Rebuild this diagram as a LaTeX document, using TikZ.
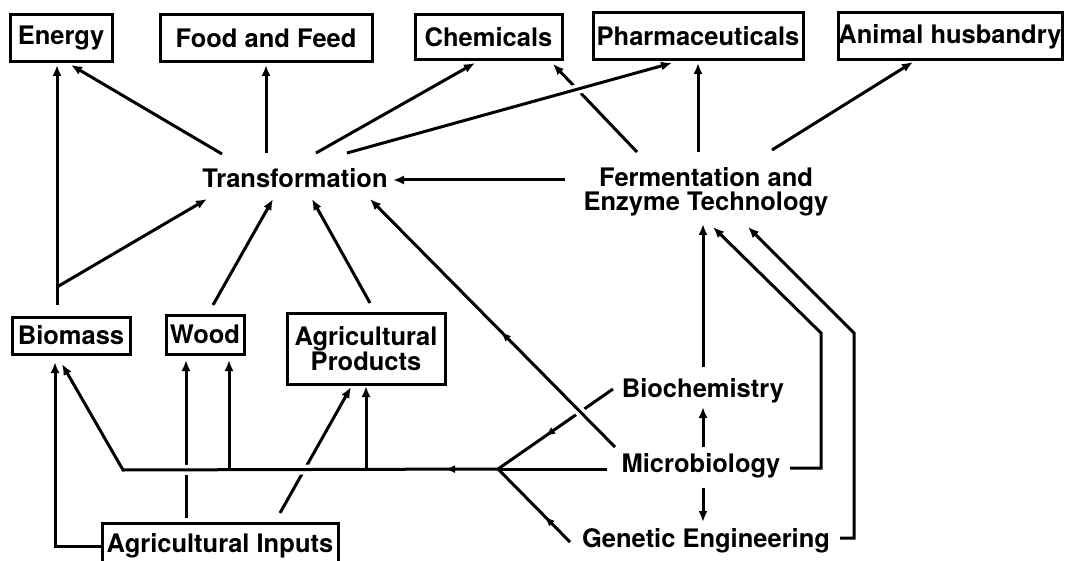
\documentclass[tikz,border=0pt]{standalone}
\usepackage{fontspec}
\setmainfont{TeX Gyre Heros}
\usetikzlibrary{arrows.meta,calc,decorations.markings}

\tikzset{
  lbl/.style={font=\fontsize{25.5}{24.5}\selectfont\bfseries, inner sep=0pt, align=center},
  box/.style={lbl, draw, line width=3pt, minimum height=47pt},
  link/.style={line width=3pt, -{Latex[length=11pt,width=9pt]}},
  plain/.style={line width=3pt},
  bridge/.style={preaction={draw, white, line width=10pt, -, shorten <=14pt, shorten >=14pt}},
  midarrow/.style={postaction={decorate}, decoration={markings, mark=at position #1 with {\arrow{Latex[length=10pt,width=8pt]}}}}
}

\begin{document}
\begin{tikzpicture}[x=1pt,y=-1pt]
    \useasboundingbox (0,0) rectangle (1081,561);
    \clip (0,0) rectangle (1081,561);
    % products
    \node[box, minimum width=102pt] (energy) at (61,38.5) {Energy};
    \node[box, minimum width=212pt] (food) at (266,38.5) {Food and Feed};
    \node[box, minimum width=147pt, minimum height=45pt] (chem) at (488.5,37.5) {Chemicals};
    \node[box, minimum width=210pt] (pharma) at (698,36.5) {Pharmaceuticals};
    \node[box, minimum width=224pt] (animal) at (950,36.5) {Animal husbandry};
    % processes
    \node[lbl] (trans) at (295,178) {Transformation};
    \node[lbl] (ferm) at (706,192) {Fermentation and\\Enzyme Technology};
    % raw materials
    \node[box, minimum width=118pt, minimum height=37pt] (biomass) at (71,335.5) {Biomass};
    \node[box, minimum width=78pt, minimum height=39pt] (wood) at (205,334.5) {Wood};
    \node[box, minimum width=158pt, minimum height=71pt] (agprod) at (366,348.5) {Agricultural\\Products};
    \node[box, minimum width=236pt, minimum height=46pt] (aginputs) at (220,546) {Agricultural Inputs};
    % sciences
    \node[lbl] (biochem) at (703,391) {Biochemistry};
    \node[lbl] (micro) at (701,466) {Microbiology};
    \node[lbl] (genetic) at (706,541) {Genetic Engineering};
    \coordinate (junction) at (498,469);
    \coordinate (busend) at (123,470);

    % into the products
    \draw[link] ($(trans)+(-73,-24)$) -- ($(energy)+(10,26.5)$);
    \draw[link] ($(trans)+(-29,-25)$) -- ($(food)+(0,26.5)$);
    \draw[link] ($(trans)+(21,-25)$) -- ($(chem)+(-13.5,25.5)$);
    \draw[link] ($(ferm)+(-69,-40)$) -- ($(chem)+(64.5,26.5)$);
    \draw[link, bridge] ($(trans)+(52,-25)$) -- ($(pharma)+(-26,26.5)$);
    \draw[link] ($(ferm)+(-8,-40)$) -- ($(pharma)+(0,26.5)$);
    \draw[link] ($(ferm)+(66,-42)$) -- ($(animal)+(-37,25.5)$);
    \draw[link] ($(ferm)+(-141,-12)$) -- ($(trans)+(98,2)$);
    \draw[link] ($(biomass)+(-14,-30.5)$) -- ($(energy)+(-4,26.5)$);

    % into transformation
    \draw[link] ($(biomass)+(-14,-48.5)$) -- ($(trans)+(-88,21)$);
    \draw[link] ($(wood)+(8,-29.5)$) -- ($(trans)+(-22,21)$);
    \draw[link] ($(agprod)+(4,-45.5)$) -- ($(trans)+(17,21)$);

    % sciences into fermentation
    \draw[link] ($(biochem)+(0,-24)$) -- ($(ferm)+(-3,32)$);
    \draw[link] ($(micro)+(89,2)$) -| ($(ferm)+(115,141)$) -- ($(ferm)+(7,35)$);
    \draw[link] ($(genetic)+(134,-3)$) -| ($(ferm)+(148,141)$) -- ($(ferm)+(42,35)$);
    \draw[link] ($(micro)+(2,-19)$) -- ($(biochem)+(0,16)$);
    \draw[link] ($(micro)+(2,22)$) -- ($(genetic)+(-3,-19)$);

    % agricultural inputs
    \draw[link] ($(aginputs)+(-34,-28)$) -- ($(wood)+(-19,25.5)$);
    \draw[link] ($(aginputs)+(60,-33)$) -- ($(agprod)+(-15,38.5)$);
    \draw[link] (aginputs.west) -| ($(biomass)+(-16,26.5)$);

    % the bus
    \draw[plain] ($(micro)+(-94,3)$) -- (junction);
    \draw[link, bridge, midarrow=53pt] (junction) -- (busend) -- ($(biomass)+(-9,28.5)$);
    \path ($(wood)+(24,25.5)$) coordinate (w2);
    \draw[link] (w2 |- busend) -- (w2);
    \draw[link] (agprod |- busend) -- ($(agprod)+(0,37.5)$);
    \draw[plain, midarrow=0.59] ($(biochem)+(-90,-2)$) -- (junction);
    \draw[plain, midarrow=0.35] ($(genetic)+(-136,1)$) -- (junction);
    \draw[link, bridge, midarrow=0.465] ($(micro)+(-86,-19)$) -- ($(trans)+(75,21)$);
\end{tikzpicture}
\end{document}
